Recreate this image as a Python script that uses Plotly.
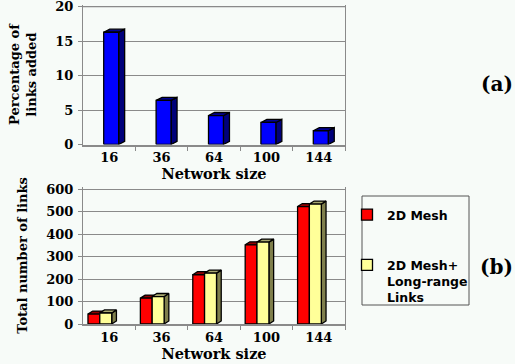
import plotly.graph_objects as go

# Network sizes (number of nodes) on the category axis
sizes = ["16", "36", "64", "100", "144"]
# (a) percentage of links added by the long-range links
pct_added = [16.3, 6.4, 4.2, 3.2, 2.0]
# (b) total number of links
mesh_links = [44, 115, 219, 352, 522]
mesh_lr_links = [49, 122, 226, 364, 533]

BG = "#f7fbf8"
GRID = "#8a8a8a"
SERIF = "DejaVu Serif"
SANS = "DejaVu Sans"

fig = go.Figure()


def add_3d_bars(values, offset, width, dx, dy, front, side, top, xaxis, yaxis):
    """Front face, top face and right side face of pseudo-3D columns."""
    fx, fy, tx, ty, sx, sy = [], [], [], [], [], []
    for i, v in enumerate(values):
        x0 = i + offset
        x1 = x0 + width
        fx += [x0, x0, x1, x1, x0, None]
        fy += [0, v, v, 0, 0, None]
        tx += [x0, x0 + dx, x1 + dx, x1, x0, None]
        ty += [v, v + dy, v + dy, v, v, None]
        sx += [x1, x1, x1 + dx, x1 + dx, x1, None]
        sy += [0, v, v + dy, dy, 0, None]
    for xs, ys, col in ((sx, sy, side), (tx, ty, top), (fx, fy, front)):
        fig.add_trace(go.Scatter(
            x=xs, y=ys, mode="lines", fill="toself", fillcolor=col,
            line=dict(color="black", width=1.3), showlegend=False,
            hoverinfo="skip", xaxis=xaxis, yaxis=yaxis))


# (a) single series
add_3d_bars(pct_added, -0.105, 0.285, 0.115, 0.45,
            "#0000ff", "#00007a", "#000090", "x", "y")

# (b) two series, grouped
add_3d_bars(mesh_links, -0.405, 0.225, 0.09, 13.5,
            "#ff0000", "#7a0000", "#900000", "x2", "y2")
add_3d_bars(mesh_lr_links, -0.18, 0.228, 0.09, 13.5,
            "#ffff99", "#7f7f4c", "#a8a870", "x2", "y2")

# legend entries for panel (b)
for name, col, grp in (("2D Mesh", "#ff0000", "g1"),
                       ("2D Mesh+<br>Long-range<br>Links", "#ffff99", "g2")):
    fig.add_trace(go.Scatter(
        x=[None], y=[None], mode="markers", name=name, legendgroup=grp,
        marker=dict(symbol="square", size=11, color=col,
                    line=dict(color="black", width=1.3)),
        xaxis="x2", yaxis="y2"))

tick_font = dict(family=SERIF, size=13, color="black", weight="bold")
title_font = dict(family=SERIF, size=14.5, color="black", weight="bold")
ytitle_font = dict(family=SERIF, size=13, color="black", weight="bold")

xcommon = dict(
    range=[-0.5, 4.5], tickmode="array", tickvals=list(range(len(sizes))),
    ticktext=sizes, ticks="", tickfont=tick_font, showgrid=False,
    showline=True, linecolor=GRID, linewidth=2, zeroline=False,
    minor=dict(tickmode="array", tickvals=[0.5, 1.5, 2.5, 3.5, 4.5],
               ticks="outside", ticklen=4, tickcolor=GRID, showgrid=False),
    domain=[83 / 515, 345 / 515], automargin=False,
    title=dict(text="Network size", font=title_font, standoff=2),
)
ycommon = dict(
    showgrid=True, gridcolor=GRID, gridwidth=1, showline=True,
    linecolor=GRID, linewidth=1, mirror=True, ticks="outside", ticklen=4,
    tickcolor=GRID, tickfont=tick_font, zeroline=False, automargin=False,
    ticklabelstandoff=2, ticklabeloverflow="allow",
)

fig.update_layout(
    width=515, height=364,
    margin=dict(l=0, r=0, t=0, b=0),
    paper_bgcolor=BG, plot_bgcolor=BG,
    xaxis=dict(xcommon, anchor="y"),
    yaxis=dict(ycommon, range=[0, 20.3], tickvals=[0, 5, 10, 15, 20],
               anchor="x", domain=[1 - 144.5 / 364, 1 - 4.7 / 364],
               title=dict(text="Percentage of<br>links added", font=ytitle_font)),
    xaxis2=dict(xcommon, anchor="y2"),
    yaxis2=dict(ycommon, range=[0, 609], tickvals=[0, 100, 200, 300, 400, 500, 600],
                anchor="x2", domain=[1 - 324 / 364, 1 - 187 / 364],
                title=dict(text="Total number of links", font=ytitle_font)),
    legend=dict(
        x=347 / 515, y=1 - 200 / 364, xanchor="left", yanchor="top",
        bgcolor="rgba(0,0,0,0)", borderwidth=0,
        font=dict(family=SANS, size=12.5, color="black", weight="bold"),
        tracegroupgap=31, valign="top",
    ),
    showlegend=True,
    shapes=[
        dict(type="rect", xref="paper", yref="paper",
             x0=362 / 515, x1=469 / 515, y0=1 - 305 / 364, y1=1 - 196 / 364,
             line=dict(color="#555555", width=1), layer="below"),
        # top edge of the back wall in panel (a)
        dict(type="line", xref="x domain", yref="y", x0=0, x1=1, y0=20, y1=20,
             line=dict(color=GRID, width=1), layer="below"),
    ],
    annotations=[
        dict(text="(a)", x=1, y=1 - 84 / 364, xref="paper", yref="paper",
             xanchor="right", yanchor="middle", showarrow=False,
             font=dict(family=SERIF, size=20, color="black", weight="bold")),
        dict(text="(b)", x=1, y=1 - 267 / 364, xref="paper", yref="paper",
             xanchor="right", yanchor="middle", showarrow=False,
             font=dict(family=SERIF, size=20, color="black", weight="bold")),
    ],
)

fig.write_html("out.html")
